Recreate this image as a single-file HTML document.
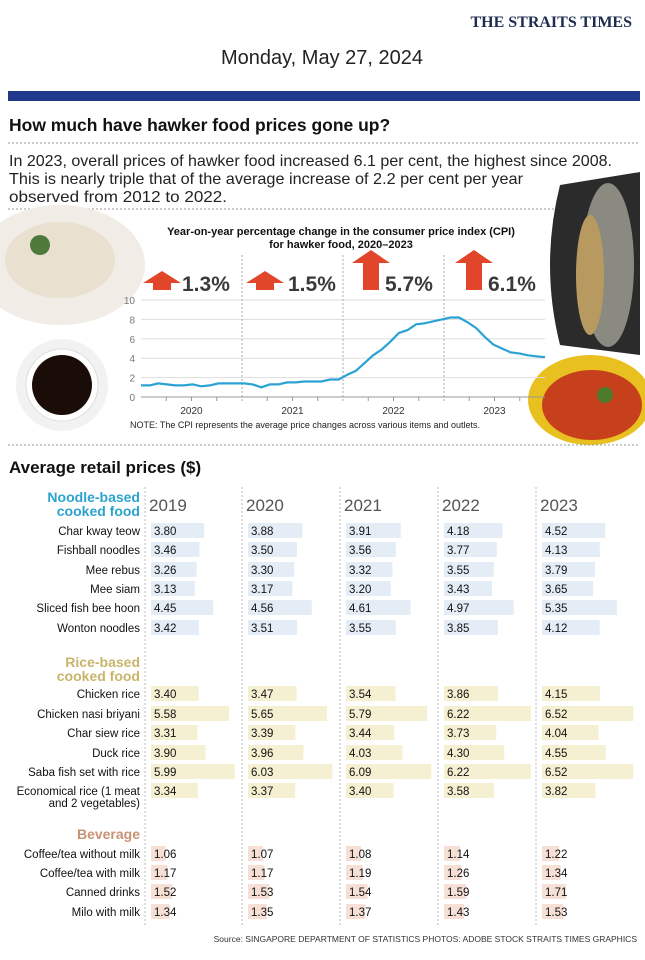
<!DOCTYPE html>
<html><head><meta charset="utf-8"><style>
html,body{margin:0;padding:0;background:#fff}
svg{display:block}
text{font-family:"Liberation Sans",sans-serif}
</style></head><body>
<svg id="s" width="645" height="960" viewBox="0 0 645 960" xmlns="http://www.w3.org/2000/svg">
<rect width="645" height="960" fill="#fff"/>
<text x="632" y="27" text-anchor="end" font-family="Liberation Serif" font-weight="bold" font-size="16" fill="#1d2c4f" style="font-family:'Liberation Serif',serif">THE STRAITS TIMES</text>
<text x="322" y="64" text-anchor="middle" font-size="20" fill="#222">Monday, May 27, 2024</text>
<rect x="8" y="91" width="632" height="10" fill="#20398a"/>
<text x="9" y="131" font-size="17.5" font-weight="bold" fill="#111">How much have hawker food prices gone up?</text>
<line x1="8" y1="143" x2="640" y2="143" stroke="#999" stroke-dasharray="2,2"/>
<text font-size="16" fill="#222"><tspan x="9" y="166" textLength="603" lengthAdjust="spacingAndGlyphs">In 2023, overall prices of hawker food increased 6.1 per cent, the highest since 2008.</tspan><tspan x="9" y="184" textLength="514" lengthAdjust="spacingAndGlyphs">This is nearly triple that of the average increase of 2.2 per cent per year</tspan><tspan x="9" y="202" textLength="218" lengthAdjust="spacingAndGlyphs">observed from 2012 to 2022.</tspan></text>
<line x1="8" y1="209" x2="640" y2="209" stroke="#999" stroke-dasharray="2,2"/>
<!-- photos -->
<ellipse cx="60" cy="265" rx="85" ry="60" fill="#f1ede6"/>
<ellipse cx="60" cy="260" rx="55" ry="38" fill="#e9e0cf"/>
<circle cx="40" cy="245" r="10" fill="#4d7a3a"/>
<circle cx="62" cy="385" r="46" fill="#f2f2f2"/>
<circle cx="62" cy="385" r="36" fill="#fff" stroke="#ddd"/>
<circle cx="62" cy="385" r="30" fill="#1a0d08"/>
<path d="M560 185 L640 172 L640 355 L560 345 Q540 265 560 185Z" fill="#2b2b2b"/>
<ellipse cx="608" cy="265" rx="26" ry="82" fill="#8a8a80"/>
<ellipse cx="590" cy="275" rx="14" ry="60" fill="#b89a60"/>
<ellipse cx="590" cy="400" rx="62" ry="45" fill="#e8c020"/>
<ellipse cx="592" cy="405" rx="50" ry="35" fill="#c7401c"/>
<circle cx="605" cy="395" r="8" fill="#4d7a2a"/>
<!-- chart -->
<text x="341" y="235" text-anchor="middle" font-size="11" font-weight="bold" fill="#111">Year-on-year percentage change in the consumer price index (CPI)</text>
<text x="341" y="248" text-anchor="middle" font-size="11" font-weight="bold" fill="#111">for hawker food, 2020–2023</text>
<g id="chart"></g>
<text x="130" y="428" font-size="9" fill="#222">NOTE: The CPI represents the average price changes across various items and outlets.</text>
<line x1="8" y1="445" x2="640" y2="445" stroke="#999" stroke-dasharray="2,2"/>
<text x="9" y="473" font-size="17" font-weight="bold" fill="#111">Average retail prices ($)</text>
<g id="tbl"></g>
<text x="637" y="942" text-anchor="end" font-size="8.5" fill="#333">Source: SINGAPORE DEPARTMENT OF STATISTICS   PHOTOS: ADOBE STOCK   STRAITS TIMES GRAPHICS</text>
</svg>
<script>
var NS="http://www.w3.org/2000/svg";
function el(p,t,a,txt){var e=document.createElementNS(NS,t);for(var k in a)e.setAttribute(k,a[k]);if(txt!==undefined)e.textContent=txt;p.appendChild(e);return e;}
var c=document.getElementById("chart");
var y0=397,u=9.7,x0=141,x1=545;
for(var v=0;v<=10;v+=2){var y=y0-v*u;el(c,"line",{x1:x0,y1:y,x2:x1,y2:y,stroke:v?"#ddd":"#999","stroke-width":1});el(c,"text",{x:135,y:y+4,"text-anchor":"end","font-size":10,fill:"#777"},v);}
var yw=(x1-x0)/4;
for(var i=1;i<4;i++){el(c,"line",{x1:x0+i*yw,y1:255,x2:x0+i*yw,y2:403,stroke:"#aaa","stroke-dasharray":"2,2"});}
for(var m=1;m<48;m++){if(m%12 && m%3==0)el(c,"line",{x1:x0+m*yw/12,y1:y0,x2:x0+m*yw/12,y2:y0+4,stroke:"#999"});}
["2020","2021","2022","2023"].forEach(function(t,i){el(c,"text",{x:x0+i*yw+yw/2,y:414,"text-anchor":"middle","font-size":10,fill:"#333"},t);});
var d=[1.2,1.2,1.4,1.3,1.2,1.2,1.3,1.1,1.2,1.4,1.4,1.4,1.4,1.3,1.0,1.3,1.3,1.5,1.5,1.6,1.6,1.6,1.8,1.8,2.3,2.7,3.5,4.3,4.9,5.7,6.6,6.9,7.5,7.6,7.8,8.0,8.2,8.2,7.7,7.1,6.2,5.4,5.0,4.6,4.5,4.3,4.2,4.1];
var pts=d.map(function(v,i){return (x0+i*(x1-x0)/47).toFixed(1)+","+(y0-v*u).toFixed(1)}).join(" ");
el(c,"polyline",{points:pts,fill:"none",stroke:"#2aa3d4","stroke-width":2.2});
function flat(x){el(c,"path",{d:"M"+x+" 283 L"+(x+19)+" 271 L"+(x+38)+" 283 L"+(x+28)+" 283 L"+(x+28)+" 290 L"+(x+10)+" 290 L"+(x+10)+" 283Z",fill:"#e2462a"});}
function tall(x){el(c,"path",{d:"M"+x+" 263 L"+(x+19)+" 250 L"+(x+38)+" 263 L"+(x+27)+" 263 L"+(x+27)+" 290 L"+(x+11)+" 290 L"+(x+11)+" 263Z",fill:"#e2462a"});}
flat(143);flat(246);tall(352);tall(455);
[["1.3%",182],["1.5%",288],["5.7%",385],["6.1%",488]].forEach(function(a){el(c,"text",{x:a[1],y:291,"font-size":21,"font-weight":"bold",fill:"#3a3a3a"},a[0]);});
var t=document.getElementById("tbl");
var cols=[150,247,345,443,541];
["2019","2020","2021","2022","2023"].forEach(function(y,i){el(t,"text",{x:cols[i]-1,y:511,"font-size":17,fill:"#555"},y);el(t,"line",{x1:cols[i]-5,y1:487,x2:cols[i]-5,y2:925,stroke:"#bbb","stroke-dasharray":"2,2"});});
function head(lines,y,col){lines.forEach(function(s,i){el(t,"text",{x:140,y:y+i*14,"text-anchor":"end","font-size":14,"font-weight":"bold",fill:col},s);});}
head(["Noodle-based","cooked food"],502,"#2ba3cf");
head(["Rice-based","cooked food"],667,"#c8b56a");
head(["Beverage"],839,"#c99275");
function rows(data,ys,bar){data.forEach(function(r,j){var y=ys[j];var lab=r[0].split("|");lab.forEach(function(s,k){el(t,"text",{x:140,y:y+4+k*12,"text-anchor":"end","font-size":11.5,fill:"#111"},s);});
for(var i=0;i<5;i++){el(t,"rect",{x:cols[i]+1,y:y-8,width:r[1][i]*14,height:15,fill:bar});el(t,"text",{x:cols[i]+4,y:y+4,"font-size":11.5,fill:"#111"},r[1][i].toFixed(2));}});}
rows([["Char kway teow",[3.80,3.88,3.91,4.18,4.52]],["Fishball noodles",[3.46,3.50,3.56,3.77,4.13]],["Mee rebus",[3.26,3.30,3.32,3.55,3.79]],["Mee siam",[3.13,3.17,3.20,3.43,3.65]],["Sliced fish bee hoon",[4.45,4.56,4.61,4.97,5.35]],["Wonton noodles",[3.42,3.51,3.55,3.85,4.12]]],[531,550,570,589,608,628],"#e4edf6");
rows([["Chicken rice",[3.40,3.47,3.54,3.86,4.15]],["Chicken nasi briyani",[5.58,5.65,5.79,6.22,6.52]],["Char siew rice",[3.31,3.39,3.44,3.73,4.04]],["Duck rice",[3.90,3.96,4.03,4.30,4.55]],["Saba fish set with rice",[5.99,6.03,6.09,6.22,6.52]],["Economical rice (1 meat|and 2 vegetables)",[3.34,3.37,3.40,3.58,3.82]]],[694,714,733,753,772,791],"#f6f0d2");
rows([["Coffee/tea without milk",[1.06,1.07,1.08,1.14,1.22]],["Coffee/tea with milk",[1.17,1.17,1.19,1.26,1.34]],["Canned drinks",[1.52,1.53,1.54,1.59,1.71]],["Milo with milk",[1.34,1.35,1.37,1.43,1.53]]],[854,873,892,912],"#f6e0d6");
</script>
</body></html>
